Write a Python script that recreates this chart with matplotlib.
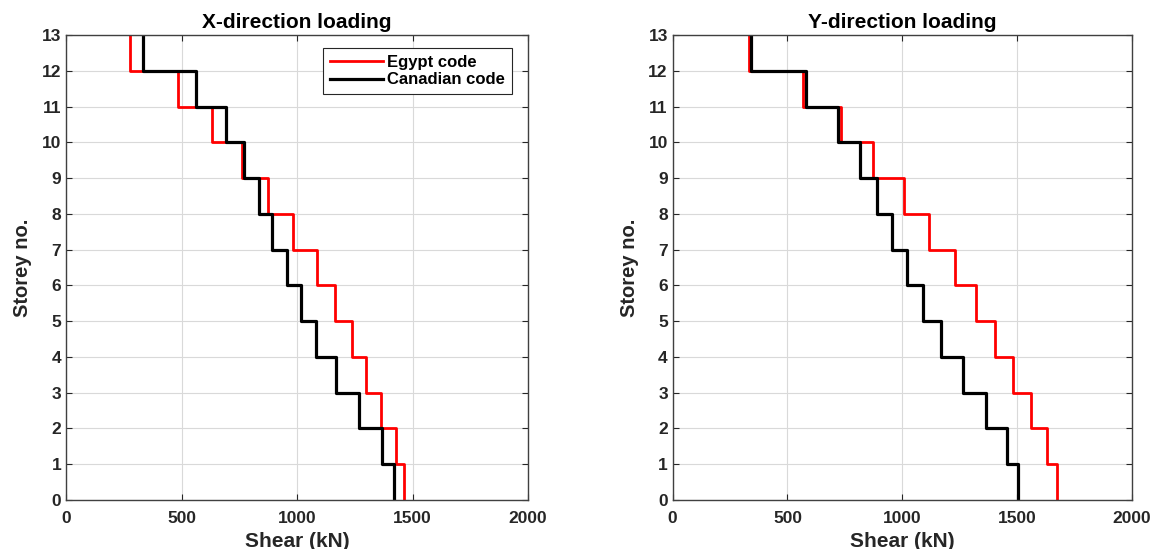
import numpy as np
import matplotlib
matplotlib.use("Agg")
import matplotlib.pyplot as plt

plt.rcParams["font.family"] = ["Liberation Sans", "DejaVu Sans"]
plt.rcParams["font.weight"] = "bold"

# storey shear per storey interval (0-1, 1-2, ..., 12-13), kN
storeys = np.arange(0, 14)

x_egypt = [1463, 1429, 1362, 1299, 1237, 1166, 1087, 984, 876, 760, 633, 486, 277]
x_canada = [1419, 1369, 1270, 1169, 1082, 1019, 955, 893, 837, 772, 693, 563, 335]

y_egypt = [1675, 1632, 1561, 1481, 1403, 1322, 1229, 1118, 1009, 874, 733, 569, 332]
y_canada = [1503, 1458, 1365, 1266, 1169, 1092, 1019, 954, 892, 816, 719, 579, 343]

titles = ["X-direction loading", "Y-direction loading"]
series_names = ["Egypt code", "Canadian code"]
x_ticks = [0, 500, 1000, 1500, 2000]
y_ticks = list(range(0, 14))


def stair(values):
    # repeat the top storey value so the line reaches level 13
    return list(values) + [values[-1]]


fig = plt.figure(figsize=(11.59, 5.49), dpi=100)
ax_left = fig.add_axes([0.057, 0.0893, 0.3986, 0.847])
ax_right = fig.add_axes([0.5804, 0.0893, 0.396, 0.847])

panels = [
    (ax_left, x_egypt, x_canada, titles[0]),
    (ax_right, y_egypt, y_canada, titles[1]),
]

for ax, red_vals, black_vals, title in panels:
    ax.plot(stair(red_vals), storeys, drawstyle="steps-pre",
            color="#ff0000", linewidth=2.0, label=series_names[0])
    ax.plot(stair(black_vals), storeys, drawstyle="steps-pre",
            color="black", linewidth=2.3, label=series_names[1])

    ax.set_xlim(0, 2000)
    ax.set_ylim(0, 13)
    ax.set_xticks(x_ticks)
    ax.set_yticks(y_ticks)
    ax.grid(True, color="#d9d9d9", linewidth=0.8)
    ax.set_axisbelow(True)

    ax.tick_params(axis="both", direction="in", length=4, width=0.8,
                   top=True, right=True, labelsize=12.5, colors="#262626")
    ax.tick_params(axis="x", pad=8)
    for sp in ax.spines.values():
        sp.set_color("#404040")
        sp.set_linewidth(1.0)

    ax.set_title(title, fontsize=15, fontweight="bold", pad=5)
    ax.set_xlabel("Shear (kN)", fontsize=15, fontweight="bold",
                  color="#262626", labelpad=4)
    ax.set_ylabel("Storey no.", fontsize=14.5, fontweight="bold",
                  color="#262626", labelpad=7)

leg = ax_left.legend(loc="upper right", bbox_to_anchor=(0.9647, 0.9714),
                     fontsize=12, fancybox=False, edgecolor="#262626",
                     framealpha=1, borderaxespad=0, handlelength=3.2,
                     borderpad=0.4, labelspacing=0.15, handletextpad=0.25)
leg.get_frame().set_linewidth(0.8)

fig.savefig("out.png", dpi=100)
plt.close()
